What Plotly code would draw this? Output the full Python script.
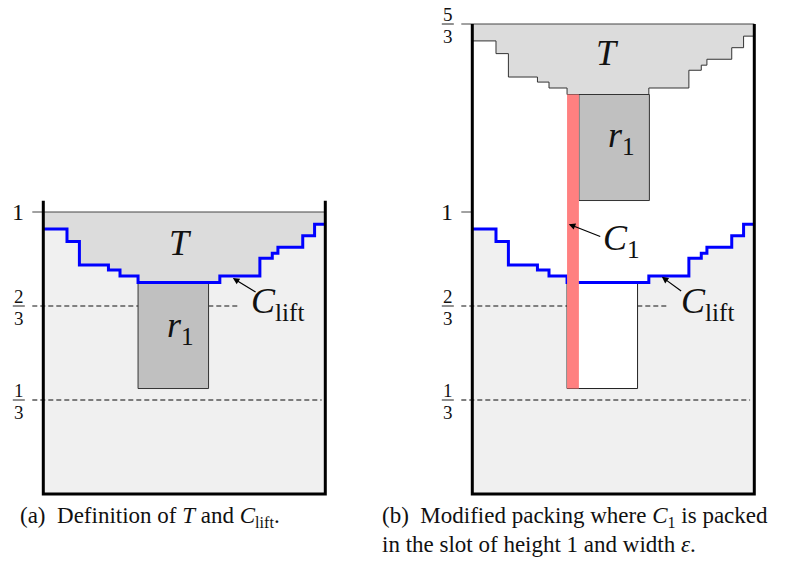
import plotly.graph_objects as go

# ---------------- data (panel-local units: panel width = 1, slot height = 1) ----------------
STEP_X = [0.0, 0.084, 0.128, 0.231, 0.272, 0.336, 0.626, 0.768, 0.812, 0.832, 0.920, 0.962, 1.0]
STEP_Y = [0.940, 0.895, 0.812, 0.794, 0.773, 0.750, 0.773, 0.836, 0.854, 0.875, 0.916, 0.957]
T_SHIFT = 2 / 3          # T is lifted by 2/3 in panel (b)
TOP_A = 1.0
TOP_B = 5 / 3
R1_X0 = 0.336
R1_W = 0.25
R1_H = 0.376
EPS = 0.042
LEVELS = [1 / 3, 2 / 3]
TICK_NUM = ["1", "2"]
TICK_DEN = ["3", "3"]

# ---------------- layout constants (pixels) ----------------
W, H = 787, 571
SCALE = 282.0            # px per unit
X0PX = 43.3              # left border of panel (a)
X0PX_B = 472.3           # left border of panel (b)
Y0PX = 494.0             # y = 0
OFF_A = 0.0
OFF_B = (X0PX_B - X0PX) / SCALE
TICK = 11 / SCALE

FONT = '"Liberation Serif", "Times New Roman", Times, serif'
LIGHT = "#f0f0f0"
TGRAY = "#dcdcdc"
R1GRAY = "#c0c0c0"
BLUE = "#0000ff"
RED = "#ff8080"

fig = go.Figure()


def add(xs, ys, fill=None, line_color="rgba(0,0,0,0)", width=1, dash=None):
    fig.add_trace(go.Scatter(
        x=xs, y=ys, mode="lines",
        fill="toself" if fill else None, fillcolor=fill,
        line=dict(color=line_color, width=width, dash=dash),
        hoverinfo="skip", showlegend=False))


def rect(x0, x1, y0, y1, fill, line_color="rgba(0,0,0,0)", width=1):
    add([x0, x1, x1, x0, x0], [y0, y0, y1, y1, y0], fill, line_color, width)


def stairs(off, dy=0.0):
    xs, ys = [], []
    for i, lv in enumerate(STEP_Y):
        xs += [STEP_X[i] + off, STEP_X[i + 1] + off]
        ys += [lv + dy, lv + dy]
    return xs, ys


# ================= panel (a) =================
o = OFF_A
rect(o, o + 1, 0, TOP_A, LIGHT)
sx, sy = stairs(o)
add([o, o + 1] + sx[::-1], [TOP_A, TOP_A] + sy[::-1], TGRAY)
add([o - TICK, o + 0.69], [LEVELS[1]] * 2, None, "#111", 1, "5px,3px")
add([o - TICK, o + 0.987], [LEVELS[0]] * 2, None, "#555", 1.3, "5px,3px")
r1_top = min(STEP_Y)
rect(o + R1_X0, o + R1_X0 + R1_W, r1_top - R1_H, r1_top, R1GRAY, "#333", 1)
add(sx, sy, None, BLUE, 3)
add([o - TICK, o + 1], [TOP_A, TOP_A], None, "#444", 1)
add([o, o, o + 1, o + 1], [TOP_A + 0.04, 0, 0, TOP_A + 0.04], None, "black", 3)

# ================= panel (b) =================
o = OFF_B
sx, sy = stairs(o)
add([o, o + 1] + sx[::-1], [0, 0] + sy[::-1], LIGHT)
tx, ty = stairs(o, T_SHIFT)
add([o, o + 1] + tx[::-1], [TOP_B, TOP_B] + ty[::-1], TGRAY)
add(tx, ty, None, "#333", 1)
add([o - TICK, o + 0.69], [LEVELS[1]] * 2, None, "#111", 1, "5px,3px")
add([o - TICK, o + 0.985], [LEVELS[0]] * 2, None, "#555", 1.3, "5px,3px")
rect(o + R1_X0, o + R1_X0 + R1_W, r1_top - R1_H, r1_top, "white", "#222", 1)
rect(o + R1_X0 + EPS, o + R1_X0 + EPS + R1_W, r1_top + T_SHIFT - R1_H, r1_top + T_SHIFT,
     R1GRAY, "#333", 1)
add(sx, sy, None, BLUE, 3)
rect(o + R1_X0, o + R1_X0 + EPS, r1_top - R1_H, r1_top + T_SHIFT, RED)
add([o - TICK, o + 1], [TOP_B, TOP_B], None, "#444", 1)
add([o - TICK, o], [1, 1], None, "#444", 1)
add([o, o, o + 1, o + 1], [TOP_B, 0, 0, TOP_B], None, "black", 3)

# fraction bars for tick labels
for off in (OFF_A, OFF_B):
    for lv in LEVELS:
        add([off - 30.5 / SCALE, off - 18.5 / SCALE], [lv, lv], None, "#222", 1)
add([OFF_B - 30.5 / SCALE, OFF_B - 18.5 / SCALE], [TOP_B, TOP_B], None, "#222", 1)

ann = []


def txt(x, y, s, size, xshift=0, yshift=0, xanchor="center", color="#111"):
    ann.append(dict(x=x, y=y, text=s, showarrow=False, xshift=xshift, yshift=yshift,
                    xanchor=xanchor, yanchor="middle",
                    font=dict(family=FONT, size=size, color=color)))


# tick labels
for off in (OFF_A, OFF_B):
    txt(off, 1, "1", 24, xshift=-25)
    for lv, n, d in zip(LEVELS, TICK_NUM, TICK_DEN):
        txt(off, lv, n, 19, xshift=-24.5, yshift=9.5)
        txt(off, lv, d, 19, xshift=-24.5, yshift=-12.5)
txt(OFF_B, TOP_B, "5", 19, xshift=-24.5, yshift=9.5)
txt(OFF_B, TOP_B, "3", 19, xshift=-24.5, yshift=-12.5)

# region labels
txt(OFF_A + 0.485, 0.890, "<i>T</i>", 36)
txt(OFF_B + 0.481, 1.564, "<i>T</i>", 36)
txt(OFF_A + 0.485, 0.592, "<i>r</i><sub>1</sub>", 36)
txt(OFF_B + 0.530, 1.265, "<i>r</i><sub>1</sub>", 36)
txt(OFF_A + 0.728, 0.675, "<i>C</i><sub>lift</sub>", 36, xanchor="left")
txt(OFF_B + 0.732, 0.675, "<i>C</i><sub>lift</sub>", 36, xanchor="left")
txt(OFF_B + 0.455, 0.898, "<i>C</i><sub>1</sub>", 36, xanchor="left")

# arrows (head, tail)
ARROWS = [
    (OFF_A + 0.672, 0.766, OFF_A + 0.758, 0.713),
    (OFF_B + 0.672, 0.770, OFF_B + 0.746, 0.716),
    (OFF_B + 0.342, 0.957, OFF_B + 0.459, 0.911),
]
for hx, hy, tx_, ty_ in ARROWS:
    ann.append(dict(x=hx, y=hy, ax=tx_, ay=ty_, axref="x", ayref="y", xref="x", yref="y",
                    text="", showarrow=True, arrowhead=2, arrowsize=1.1, arrowwidth=1.2,
                    arrowcolor="black"))


# captions (paper coordinates)
def cap(xpx, ypx, s):
    ann.append(dict(x=xpx / W, y=1 - ypx / H, xref="paper", yref="paper", text=s,
                    showarrow=False, xanchor="left", yanchor="middle",
                    font=dict(family=FONT, size=23, color="#111")))


cap(18, 517, "(a)  Definition of <i>T</i> and <i>C</i><sub>lift</sub>.")
cap(380, 517, "(b)  Modified packing where <i>C</i><sub>1</sub> is packed")
cap(380, 544, "in the slot of height 1 and width <i>ε</i>.")

fig.update_layout(
    width=W, height=H, margin=dict(l=0, r=0, t=0, b=0),
    paper_bgcolor="white", plot_bgcolor="white",
    xaxis=dict(range=[-X0PX / SCALE, (W - X0PX) / SCALE], visible=False, fixedrange=True),
    yaxis=dict(range=[(Y0PX - H) / SCALE, Y0PX / SCALE], visible=False, fixedrange=True),
    annotations=ann,
)
fig.write_html("out.html", config={"displayModeBar": False},
               post_script="document.body.style.margin='0';document.body.style.overflow='hidden';")
